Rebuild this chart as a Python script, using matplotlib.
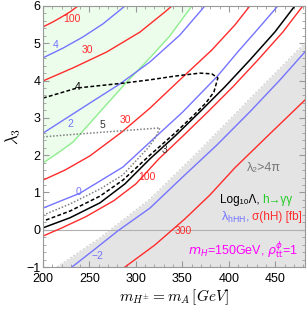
import matplotlib.pyplot as plt
from matplotlib.ticker import MultipleLocator

plt.rcParams['font.family'] = ['Liberation Sans', 'DejaVu Sans']
plt.rcParams['mathtext.fontset'] = 'cm'

# sigma(hH) contours [fb]
sig100a_x = [200, 209.7, 218.3, 229.0, 237.6]
sig100a_y = [5.44, 5.56, 5.68, 5.84, 6.0]
sig30a_x = [200, 232.3, 268.8, 304.3, 331.2, 338.7]
sig30a_y = [3.99, 4.34, 4.77, 5.30, 5.84, 6.0]
sig30b_x = [200, 223.7, 250.5, 284.9, 315.1, 347.3, 381.7, 406.5, 422.6]
sig30b_y = [1.33, 1.60, 1.98, 2.62, 3.26, 4.02, 4.82, 5.49, 6.0]
sig100b_x = [200, 220.4, 246.2, 276.3, 300.0, 324.7, 350.5, 377.4, 404.3, 431.2, 458.1, 479.6]
sig100b_y = [-0.17, 0.05, 0.35, 0.78, 1.23, 1.90, 2.51, 3.16, 3.83, 4.55, 5.30, 6.0]
sig300_x = [288.2, 320.4, 352.7, 379.6, 406.5, 444.1, 482]
sig300_y = [-1.0, -0.41, 0.29, 0.93, 1.66, 2.57, 3.48]

# lambda_hHH contours
lam4_x = [200, 221.5, 243.0, 264.5, 288.2]
lam4_y = [4.61, 4.87, 5.17, 5.52, 6.0]
lam2_x = [200, 226.9, 253.8, 282.8, 315.1, 347.3, 374.2]
lam2_y = [2.59, 3.02, 3.45, 3.91, 4.50, 5.22, 6.0]
lam0_x = [200, 239.8, 286.0, 315.1, 350.5, 387.1, 409.7, 431.2, 452.7]
lam0_y = [0.58, 0.98, 1.68, 2.35, 3.16, 4.10, 4.77, 5.38, 6.0]
lamm2_x = [231.2, 255.9, 280.6, 315.1, 352.7, 387.1, 422.6, 454.8, 482]
lamm2_y = [-1.0, -0.52, -0.03, 0.58, 1.47, 2.27, 3.16, 4.01, 4.77]

# Log10 Lambda contours
log3_x = [200, 229.0, 261.3, 288.2, 315.1, 342.0, 368.8, 395.7, 422.6, 449.5, 471.0]
log3_y = [0.05, 0.32, 0.72, 1.23, 1.90, 2.51, 3.16, 3.83, 4.55, 5.30, 6.0]
log4_x = [200, 236.6, 286.0, 315.1, 342.0, 368.8, 381.7, 388.2, 383.9, 375.3, 360.2,
          341.9, 315.1, 286.0, 261.3, 229.0, 200]
log4_y = [3.53, 3.80, 3.93, 4.02, 4.12, 4.20, 4.18, 4.07, 3.69, 3.40, 3.02,
          2.59, 2.00, 1.33, 0.90, 0.50, 0.23]
log5_x = [200, 239.8, 282.8, 325.8, 321.5, 312.9, 286.0, 261.3, 229.0, 200]
log5_y = [2.49, 2.57, 2.65, 2.73, 2.49, 2.19, 1.47, 1.09, 0.69, 0.39]

# h -> gamma gamma boundary, lambda2 > 4pi boundary
hgg_x = [200, 216.1, 232.3, 250.5, 268.8, 288.2, 315.1, 336.6, 360.2]
hgg_y = [1.79, 2.06, 2.35, 2.86, 3.37, 3.91, 4.61, 5.20, 6.0]
pert_x = [215.1, 261.3, 315.1, 366.7, 422.6, 482]
pert_y = [-1.0, -0.22, 0.82, 2.08, 3.51, 5.01]

red = '#ff2b2b'
blue = '#7474ff'

fig = plt.figure(figsize=(3.07, 3.11), dpi=100)
ax = fig.add_axes([43 / 307, 1 - 267 / 311, 262 / 307, 261 / 311])

ax.fill_between(hgg_x, hgg_y, 6, color='#ecfdec', lw=0)
ax.plot(hgg_x, hgg_y, color='#90ee90', lw=1)
ax.fill_between(pert_x, pert_y, -1, color='#e4e4e4', lw=0)
ax.plot(pert_x, pert_y, color='#d0d0d0', lw=0.8, ls=(0, (2, 1.5)))
ax.axhline(0, color='#b0b0b0', lw=0.8)

for xs, ys in [(sig100a_x, sig100a_y), (sig30a_x, sig30a_y), (sig30b_x, sig30b_y),
               (sig100b_x, sig100b_y), (sig300_x, sig300_y)]:
    ax.plot(xs, ys, color=red, lw=1)
for xs, ys in [(lam4_x, lam4_y), (lam2_x, lam2_y), (lam0_x, lam0_y), (lamm2_x, lamm2_y)]:
    ax.plot(xs, ys, color=blue, lw=1)

ax.plot(log3_x, log3_y, color='black', lw=1.1)
ax.plot(log4_x, log4_y, color='black', lw=1.1, ls=(0, (2.5, 1.5)))
ax.plot(log5_x, log5_y, color='#808080', lw=1.1, ls=(0, (1, 1.2)))

# contour labels
lab = dict(fontsize=7.5, ha='center', va='center')
ax.text(231.2, 5.65, '100', color=red, **lab)
ax.text(214.0, 4.95, '4', color=blue, **lab)
ax.text(247.3, 4.82, '30', color=red, **lab)
ax.text(237.6, 3.83, '4', color='black', **lab)
ax.text(229.0, 2.84, '2', color=blue, **lab)
ax.text(264.5, 2.81, '5', color='#333333', **lab)
ax.text(289.2, 2.94, '30', color=red, **lab)
ax.text(331.2, 2.14, '3', color='#333333', **lab)
ax.text(238.7, 1.01, '0', color=blue, **lab)
ax.text(311.8, 1.41, '100', color=red, **lab)
ax.text(259.1, -0.71, '\u22122', color=blue, **lab)
ax.text(350.5, -0.03, '300', color=red, **lab)

# legend texts
ax.text(437.6, 1.66, '\u03bb\u2082>4\u03c0', color='#777777', fontsize=9, ha='center', va='center')
ax.text(433.5, 0.80, 'Log\u2081\u2080\u039b,', color='black', fontsize=8.5, ha='right', va='center')
ax.text(436.0, 0.80, 'h\u2192\u03b3\u03b3', color='#22cc22', fontsize=8.5, ha='left', va='center')
ax.text(422.0, 0.34, r'$\mathregular{\lambda_{hHH}}$,', color=blue, fontsize=9, ha='right',
        va='center', math_fontfamily='dejavusans')
ax.text(424.5, 0.34, '\u03c3(hH) [fb]', color=red, fontsize=8.5, ha='left', va='center')
ax.text(474, -0.54, r'$m_H$=150GeV, $\rho^{\phi}_{\mathrm{tt}}$=1', color='#ff00ff', fontsize=9,
        ha='right', va='center', math_fontfamily='dejavusans')

ax.set_xlim(200, 482)
ax.set_ylim(-1, 6)
ax.xaxis.set_major_locator(MultipleLocator(50))
ax.xaxis.set_minor_locator(MultipleLocator(10))
ax.yaxis.set_major_locator(MultipleLocator(1))
ax.yaxis.set_minor_locator(MultipleLocator(0.2))
ax.tick_params(which='both', direction='in', top=True, right=True, color='#999999', labelsize=9, pad=2)
ax.tick_params(axis='x', pad=4)
ax.tick_params(which='major', length=4)
ax.tick_params(which='minor', length=2)
for s in ax.spines.values():
    s.set_color('#999999')

ax.set_xlabel(r'$m_{H^{\pm}} = m_A\,[GeV]$', fontsize=11, labelpad=2)
ax.set_ylabel(r'$\lambda_3$', fontsize=12, labelpad=2)

fig.savefig('out.png', dpi=100)
